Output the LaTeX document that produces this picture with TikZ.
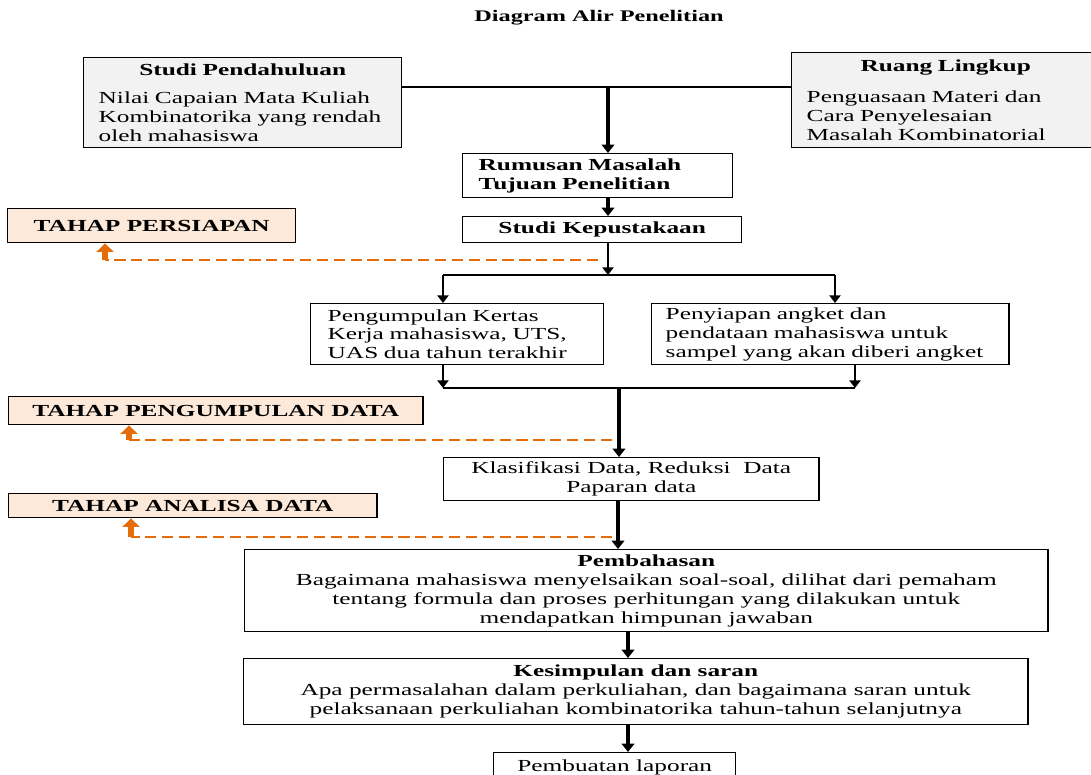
\documentclass[tikz,border=0pt]{standalone}
\usepackage{fontspec}
\setmainfont{Liberation Serif}[FakeStretch=1.5]
\usetikzlibrary{arrows.meta}
\definecolor{abumuda}{HTML}{F2F2F2}
\definecolor{krem}{HTML}{FDE9D9}
\definecolor{jingga}{HTML}{E46C0A}
\newcommand{\isi}{\fontsize{12}{13.5}\selectfont}
\tikzset{
  kotak/.style={draw, line width=1pt, inner ysep=0pt, anchor=north west, font=\isi},
  kotakabu/.style={kotak, fill=abumuda},
  tahap/.style={kotak, fill=krem, inner xsep=0pt, font=\isi\bfseries},
  panah/.style={line width=2.4pt, -{Triangle[width=9pt,length=6pt]}},
  panahkecil/.style={line width=2pt, -{Triangle[width=8pt,length=5.5pt]}},
  sambung/.style={line width=1pt},
  putus/.style={draw=jingga, line width=2pt, dash pattern=on 8pt off 4pt},
  panahjingga/.style={draw=jingga, line width=4pt, -{Triangle[width=12pt,length=6pt]}}
}
\begin{document}
\begin{tikzpicture}[x=0.025cm, y=-0.025cm]
    \useasboundingbox (0,0) rectangle (1091,775);

    % Judul
    \node[font=\fontsize{11.5}{13}\selectfont\bfseries] (judul) at (599,18) {Diagram Alir Penelitian};

    % Kotak atas
    \node[kotakabu, inner xsep=0.375cm, text width=7.2cm, minimum width=7.95cm, minimum height=2.25cm] (pendahuluan) at (83,57)
        {{\centering\textbf{Studi Pendahuluan}\par}\vspace{6pt}Nilai Capaian Mata Kuliah\\ Kombinatorika yang rendah\\ oleh mahasiswa};
    \node[kotakabu, inner xsep=0.375cm, text width=6.95cm, minimum width=7.7cm, minimum height=2.375cm] (ruang) at (791,52)
        {{\centering\textbf{Ruang Lingkup}\par}\vspace{8pt}Penguasaan Materi dan\\ Cara Penyelesaian\\ Masalah Kombinatorial};
    \node[kotak, inner xsep=0.4cm, text width=5.95cm, minimum width=6.75cm, minimum height=1.1cm, font=\isi\bfseries] (rumusan) at (462,153)
        {Rumusan Masalah\\ Tujuan Penelitian};
    \node[kotak, minimum width=6.975cm, minimum height=0.65cm, font=\isi\bfseries] (kepustakaan) at (462,216) {Studi Kepustakaan};
    \node[tahap, minimum width=7.2cm, minimum height=0.85cm] (persiapan) at (7,208) {TAHAP PERSIAPAN};

    % Pengumpulan data
    \node[kotak, inner xsep=0.425cm, text width=6.475cm, minimum width=7.325cm, minimum height=1.525cm] (kertas) at (310,303)
        {Pengumpulan Kertas\\ Kerja mahasiswa, UTS,\\ UAS dua tahun terakhir};
    \node[kotak, inner xsep=0.35cm, text width=8.225cm, minimum width=8.925cm, minimum height=1.525cm] (angket) at (651,303)
        {Penyiapan angket dan\\ pendataan mahasiswa untuk\\ sampel yang akan diberi angket};
    \node[tahap, minimum width=10.35cm, minimum height=0.7cm] (pengumpulan) at (8,396) {TAHAP PENGUMPULAN DATA};

    % Analisa data
    \node[kotak, align=center, minimum width=9.375cm, minimum height=1.075cm] (klasifikasi) at (443,457)
        {Klasifikasi Data, Reduksi\ \ Data\\ Paparan data};
    \node[tahap, minimum width=9.2cm, minimum height=0.6cm] (analisa) at (8,493) {TAHAP ANALISA DATA};
    \node[kotak, align=center, minimum width=20.075cm, minimum height=2.05cm] (pembahasan) at (244,549)
        {\textbf{Pembahasan}\\ Bagaimana mahasiswa menyelsaikan soal-soal, dilihat dari pemaham\\ tentang formula dan proses perhitungan yang dilakukan untuk\\ mendapatkan himpunan jawaban};
    \node[kotak, align=center, minimum width=19.6cm, minimum height=1.65cm] (kesimpulan) at (243,658)
        {\textbf{Kesimpulan dan saran}\\ Apa permasalahan dalam perkuliahan, dan bagaimana saran untuk\\ pelaksanaan perkuliahan kombinatorika tahun-tahun selanjutnya};
    \node[kotak, minimum width=6.05cm, minimum height=0.75cm] (laporan) at (493,752) {Pembuatan laporan};

    % Alur utama
    \coordinate (temu) at (608,87);
    \draw[sambung] (pendahuluan.east |- temu) -- (ruang.west |- temu);
    \draw[panah] (temu) -- (temu |- rumusan.north);
    \draw[panah] (temu |- rumusan.south) -- (temu |- kepustakaan.north);

    \coordinate (cabang) at (608,275);
    \coordinate (cabangkiri) at (443,275);
    \coordinate (cabangkanan) at (835,275);
    \draw[panahkecil] (cabang |- kepustakaan.south) -- (cabang);
    \draw[sambung] (cabangkiri) -- (cabangkanan);
    \draw[panahkecil] (cabangkiri) -- (cabangkiri |- kertas.north);
    \draw[panahkecil] (cabangkanan) -- (cabangkanan |- angket.north);

    \coordinate (gabungkiri) at (443,388);
    \coordinate (gabungkanan) at (855,388);
    \coordinate (gabung) at (619,388);
    \draw[panahkecil] (gabungkiri |- kertas.south) -- (gabungkiri);
    \draw[panahkecil] (gabungkanan |- angket.south) -- (gabungkanan);
    \draw[sambung] (gabungkiri) -- (gabungkanan);
    \draw[panah] (gabung) -- (gabung |- klasifikasi.north);

    \coordinate (turun) at (618,500);
    \draw[panah] (turun |- klasifikasi.south) -- (turun |- pembahasan.north);
    \coordinate (akhir) at (628,640);
    \draw[panah] (akhir |- pembahasan.south) -- (akhir |- kesimpulan.north);
    \draw[panah] (akhir |- kesimpulan.south) -- (akhir |- laporan.north);

    % Umpan balik tahap
    \coordinate (balik1) at (598,260);
    \coordinate (naik1) at ([xshift=2.45cm]persiapan.south west);
    \draw[putus] (balik1) -- (balik1 -| naik1);
    \draw[panahjingga] (balik1 -| naik1) -- (naik1);

    \coordinate (balik2) at (612,440);
    \coordinate (naik2) at ([xshift=3.025cm]pengumpulan.south west);
    \draw[putus] (balik2) -- (balik2 -| naik2);
    \draw[panahjingga] (balik2 -| naik2) -- (naik2);

    \coordinate (balik3) at (612,537);
    \coordinate (naik3) at ([xshift=3.075cm]analisa.south west);
    \draw[putus] (balik3) -- (balik3 -| naik3);
    \draw[panahjingga] (balik3 -| naik3) -- (naik3);
\end{tikzpicture}
\end{document}
